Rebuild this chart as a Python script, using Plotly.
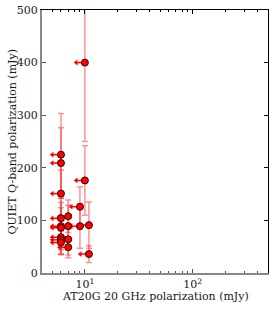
import math
import plotly.graph_objects as go

# Upper limits on AT20G 20 GHz polarization (mJy)
at20g_pol = [6, 6, 6, 6, 6, 6, 6, 6, 6, 7, 7, 7, 7, 9, 9, 10, 10, 10.9, 10.9]
# QUIET Q-band polarization (mJy)
quiet_pol = [225, 209, 151, 104, 89, 86, 68, 63, 58, 108, 89, 64, 49, 126, 89, 400, 176, 91, 36]
quiet_err = [78, 67, 45, 38, 45, 38, 33, 28, 22, 31, 40, 30, 20, 38, 42, 150, 66, 44, 16]

xticks = [10, 100]
xticktext = ["10<sup>1</sup>", "10<sup>2</sup>"]
yticks = [0, 100, 200, 300, 400, 500]
minor_x = [5, 6, 7, 8, 9, 20, 30, 40, 50, 60, 70, 80, 90, 200, 300, 400]

arrow_frac = 0.83
arrow_tip = [v * arrow_frac for v in at20g_pol]
arrow_len = [v - t for v, t in zip(at20g_pol, arrow_tip)]

W, H = 274, 309
ML, MR, MT, MB = 42, 6, 10, 36
font = dict(family="DejaVu Serif", size=11, color="#1a1a1a")

fig = go.Figure()
# vertical error bars
fig.add_trace(go.Scatter(
    x=at20g_pol, y=quiet_pol, mode="markers",
    marker=dict(size=1, opacity=0),
    error_y=dict(type="data", array=quiet_err, color="rgba(255,40,40,0.5)",
                 thickness=1.5, width=3),
    showlegend=False, hoverinfo="skip"))
# upper-limit arrows (shaft)
fig.add_trace(go.Scatter(
    x=at20g_pol, y=quiet_pol, mode="markers",
    marker=dict(size=1, opacity=0),
    error_x=dict(type="data", symmetric=False, array=[0] * len(at20g_pol),
                 arrayminus=arrow_len, color="red", thickness=1.5, width=0),
    showlegend=False, hoverinfo="skip"))
# arrow heads
fig.add_trace(go.Scatter(
    x=arrow_tip, y=quiet_pol, mode="markers",
    marker=dict(symbol="triangle-left", size=5, color="red", line=dict(width=0)),
    showlegend=False, hoverinfo="skip"))
# data points
fig.add_trace(go.Scatter(
    x=at20g_pol, y=quiet_pol, mode="markers",
    marker=dict(symbol="circle", size=7, color="red",
                line=dict(color="#300000", width=1)),
    showlegend=False))
# dummy trace for mirrored axes
fig.add_trace(go.Scatter(
    x=at20g_pol, y=quiet_pol, mode="markers", xaxis="x2", yaxis="y2",
    marker=dict(size=1, opacity=0), showlegend=False, hoverinfo="skip"))

xr = [math.log10(4), math.log10(500)]
tickfont = dict(family="DejaVu Serif", size=11, color="#1a1a1a")
fig.update_layout(
    width=W, height=H,
    margin=dict(l=ML, r=MR, t=MT, b=MB, autoexpand=False),
    plot_bgcolor="white", paper_bgcolor="white",
    font=font,
    xaxis=dict(type="log", range=xr, tickvals=xticks, ticktext=xticktext,
               ticks="inside", ticklen=4, tickcolor="#555", showgrid=False,
               zeroline=False, showline=True, linecolor="#888", linewidth=2,
               automargin=False,
               minor=dict(tickvals=minor_x, ticks="inside", ticklen=2, tickcolor="#555"),
               tickfont=tickfont),
    yaxis=dict(range=[0, 500], tickvals=yticks, ticks="inside", ticklen=4,
               tickcolor="#555", showgrid=False, zeroline=False, showline=True,
               linecolor="#888", linewidth=2, automargin=False,
               tickfont=tickfont),
    xaxis2=dict(type="log", range=xr, overlaying="x", side="top", anchor="y",
                tickvals=xticks, ticks="inside", ticklen=4, tickcolor="black",
                showticklabels=False, showgrid=False, zeroline=False,
                showline=True, linecolor="black", linewidth=1, automargin=False,
                minor=dict(tickvals=minor_x, ticks="inside", ticklen=2, tickcolor="black")),
    yaxis2=dict(range=[0, 500], overlaying="y", side="right", anchor="x",
                tickvals=yticks, ticks="inside", ticklen=4, tickcolor="black",
                showticklabels=False, showgrid=False, zeroline=False,
                showline=True, linecolor="black", linewidth=1, automargin=False),
    annotations=[
        dict(text="AT20G 20 GHz polarization (mJy)", xref="paper", yref="paper",
             x=0.5, y=-(296 - (H - MB)) / (H - MT - MB), xanchor="center", yanchor="middle",
             showarrow=False, font=font),
        dict(text="QUIET Q-band polarization (mJy)", xref="paper", yref="paper",
             x=-(ML - 12) / (W - ML - MR), y=0.5, xanchor="center", yanchor="middle",
             textangle=-90, showarrow=False, font=font),
    ],
)

fig.write_html("out.html", config={"displayModeBar": False},
               post_script="document.body.style.margin='0px';document.body.style.padding='0px';")
